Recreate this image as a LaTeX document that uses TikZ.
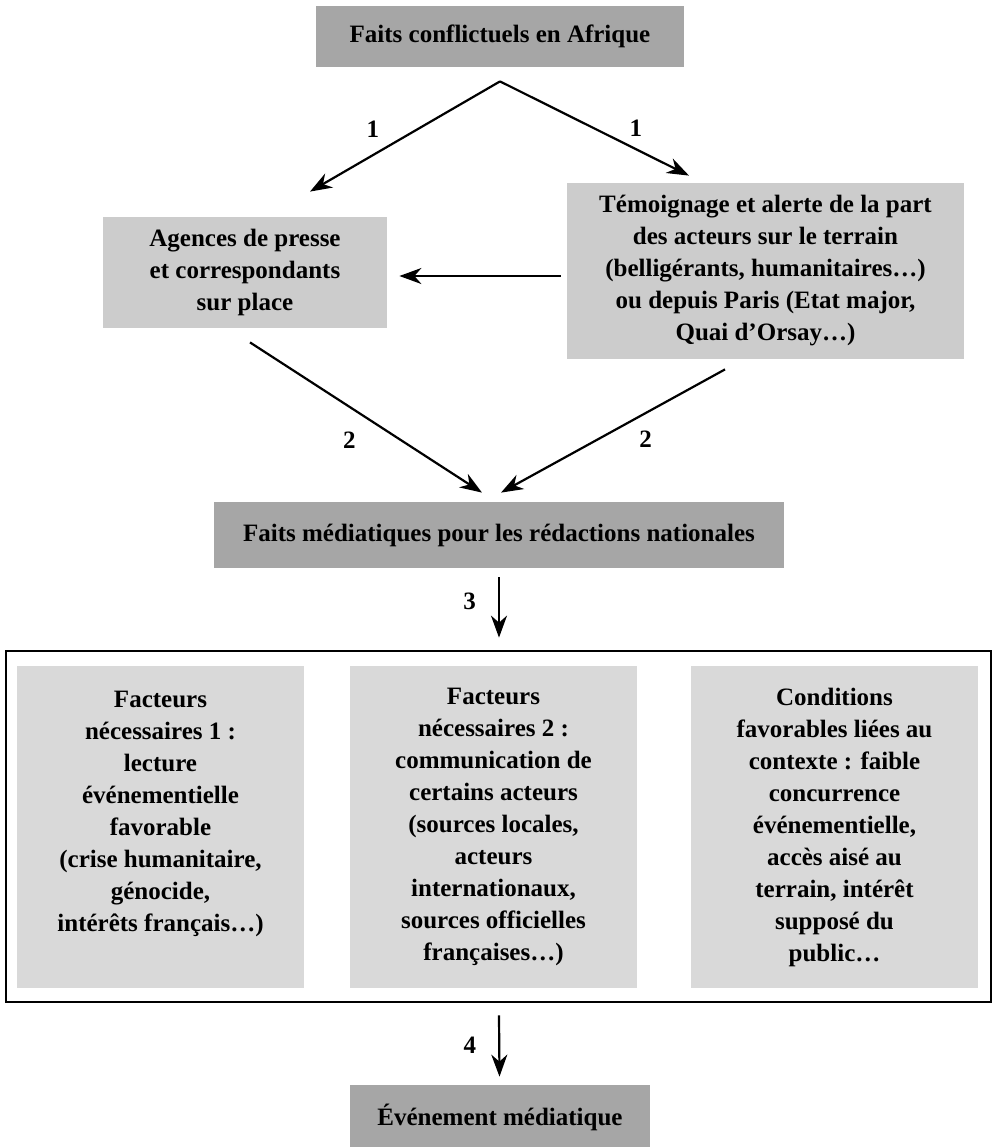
\documentclass[tikz,border=0pt]{standalone}
\usepackage{fontspec}
\setmainfont{Liberation Serif}
\usetikzlibrary{arrows.meta}
\definecolor{boxdark}{HTML}{A6A6A6}
\definecolor{boxlight}{HTML}{CCCCCC}
\definecolor{boxpale}{HTML}{D9D9D9}
\begin{document}
\begin{tikzpicture}[x=0.5pt, y=-0.5pt,
  every node/.style={font=\bfseries\fontsize{12.5}{16}\selectfont},
  darkbox/.style={fill=boxdark, inner sep=0pt},
  greybox/.style={fill=boxlight, inner sep=0pt, align=center},
  factbox/.style={fill=boxpale, inner sep=0pt, align=center, minimum width=143.5pt, minimum height=161pt},
  arr/.style={-{Stealth[length=11pt,width=8pt,inset=3.5pt]}, line width=1.1pt},
  num/.style={inner sep=0pt}]
\useasboundingbox (0,0) rectangle (997,1147);
% boxes
\node[darkbox, minimum width=184pt, minimum height=30.5pt] (conflits) at (500,36.5) {Faits conflictuels en Afrique};
\node[greybox, minimum width=142pt, minimum height=55.5pt] (agences) at (245,272.5) {Agences de presse\\et correspondants\\sur place};
\node[greybox, minimum width=198.5pt, minimum height=88pt] (temoins) at (765.5,271) {Témoignage et alerte de la part\\des acteurs sur le terrain\\(belligérants, humanitaires\ldots)\\ou depuis Paris (Etat major,\\Quai d’Orsay\ldots)};
\node[darkbox, minimum width=285pt, minimum height=33pt] (mediatiques) at (499,535) {Faits médiatiques pour les rédactions nationales};
\node[draw, line width=1.4pt, inner sep=0pt, minimum width=492.5pt, minimum height=175.5pt] (cadre) at (498.5,826.5) {};
\node[factbox] (facteurs1) at (160.5,827) {Facteurs\\nécessaires 1 :\\lecture\\événementielle\\favorable\\(crise humanitaire,\\génocide,\\intérêts français\ldots)\\~};
\node[factbox] (facteurs2) at (493.5,827) {Facteurs\\nécessaires 2 :\\communication de\\certains acteurs\\(sources locales,\\acteurs\\internationaux,\\sources officielles\\françaises\ldots)};
\node[factbox] (conditions) at (834.5,827) {Conditions\\favorables liées au\\contexte : faible\\concurrence\\événementielle,\\accès aisé au\\terrain, intérêt\\supposé du\\public\ldots};
\node[darkbox, minimum width=150pt, minimum height=32pt] (evenement) at (500,1117) {Événement médiatique};
% arrows
\coordinate (sommet) at ([yshift=-7pt]conflits.south);
\draw[arr] (sommet) -- ([shift={(65,-25)}]agences.north) node[num, pos=0.43, left=19pt] {1};
\draw[arr] (sommet) -- ([shift={(-76.5,-7)}]temoins.north) node[num, pos=0.5, right=17pt] {1};
\draw[arr] ([shift={(-6,5)}]temoins.west) -- ([shift={(12,3.5)}]agences.east);
\draw[arr] ([shift={(5,14)}]agences.south) -- ([shift={(-17,-9)}]mediatiques.north) node[num, pos=0.65, left=22pt] {2};
\draw[arr] ([shift={(-40.5,10)}]temoins.south) -- ([shift={(2,-9)}]mediatiques.north) node[num, pos=0.57, right=20.5pt] {2};
\draw[arr] ([shift={(0,9)}]mediatiques.south) -- ([shift={(0.5,-12)}]cadre.north) node[num, pos=0.4, left=11pt] {3};
\draw[arr] ([shift={(0.5,12)}]cadre.south) -- ([shift={(-0.5,-8)}]evenement.north) node[num, pos=0.48, left=11pt] {4};
\end{tikzpicture}
\end{document}
